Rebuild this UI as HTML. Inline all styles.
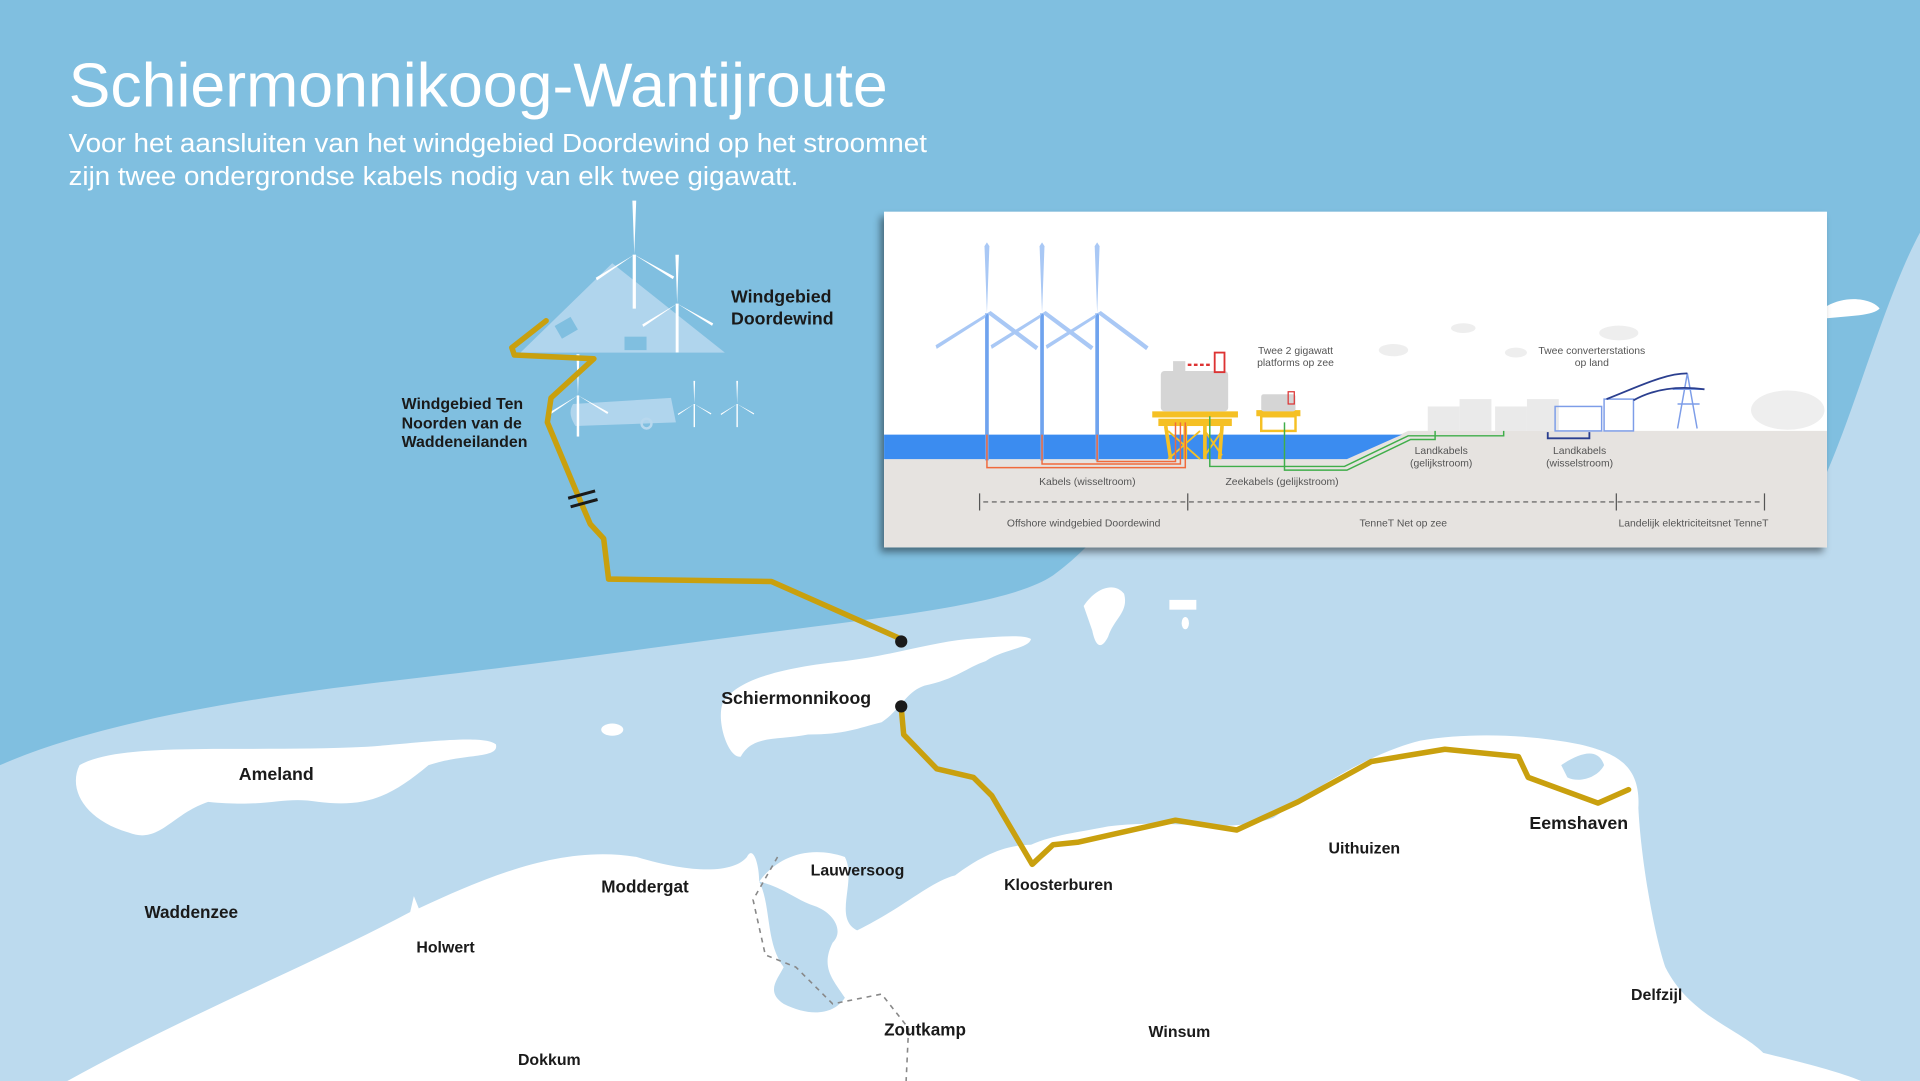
<!DOCTYPE html>
<html><head><meta charset="utf-8"><style>
html,body{margin:0;padding:0;width:1920px;height:1081px;overflow:hidden;background:#80bfe0}
svg{display:block}
text{font-family:"Liberation Sans",Arial,sans-serif}
</style></head><body>
<svg width="1920" height="1081" viewBox="0 0 1568 883" preserveAspectRatio="none">
<defs>
<filter id="sh" x="-5%" y="-5%" width="110%" height="115%"><feDropShadow dx="-3" dy="4" stdDeviation="3" flood-color="#000" flood-opacity="0.45"/></filter>
<g id="tb"><line x1="0" y1="0" x2="0" y2="120" stroke="#6fa3ee" stroke-width="3"/><path d="M0 0 L-2 -55 L0 -58 L2 -55 Z" fill="#a9c8f5"/><path d="M0 0 L-42 26 L-41 29 L-2 4 Z" fill="#a9c8f5"/><path d="M0 0 L40 30 L42 27 L3 -2 Z" fill="#a9c8f5"/></g>
<g id="wt"><line x1="0" y1="0" x2="0" y2="42" stroke="#fff" stroke-width="2.5"/><path d="M0 0 L-1.5 -42 L1.5 -42 Z" fill="#fff"/><path d="M0 0 L-30 18 L-29 20 Z" fill="#fff"/><path d="M0 0 L30 19 L31 17 Z" fill="#fff"/></g>
</defs>
<rect width="1568" height="883" fill="#80bfe0"/>
<path d="M0 625 C80 590 200 570 330 555 C460 540 560 525 640 515 C760 500 830 490 860 470 C895 445 905 420 930 415 L1460 440 C1500 400 1530 260 1568 190 L1568 883 L0 883 Z" fill="#bcdaee"/>
<path d="M1492 250 C1510 240 1530 245 1535 252 C1530 258 1510 258 1492 260 Z" fill="#fff"/>
<path d="M65 625 C100 605 200 615 300 610 C350 606 395 600 405 608 C408 620 380 615 350 625 C320 650 300 660 260 655 C230 650 220 660 170 655 C140 665 130 690 105 680 C70 670 55 645 65 625 Z" fill="#fff"/>
<path d="M590 575 C600 555 640 545 690 540 C730 535 760 525 790 522 C815 520 835 518 842 522 C840 530 820 530 805 540 C790 545 780 555 755 560 C740 565 735 580 720 590 C700 595 690 600 660 600 C635 605 615 600 605 618 C595 620 585 590 590 575 Z" fill="#fff"/>
<path d="M885 495 C895 480 910 475 918 485 C922 500 910 505 905 520 C900 530 895 530 892 515 Z" fill="#fff"/>
<rect x="955" y="490" width="22" height="8" fill="#fff"/><ellipse cx="968" cy="509" rx="3" ry="5" fill="#fff"/>
<ellipse cx="500" cy="596" rx="9" ry="5" fill="#fff"/>
<path d="M55 883 C150 830 250 790 335 745 L338 732 L342 742 C400 715 460 690 520 700 C570 715 600 712 610 700 C615 690 620 706 620 720 C635 700 660 690 690 700 C700 720 680 750 700 760 C740 740 760 720 780 715 C800 700 820 690 842 690 C860 682 880 680 905 675 C960 668 1000 682 1040 668 C1080 640 1120 615 1160 605 C1200 598 1250 600 1290 608 C1320 615 1340 625 1338 660 C1340 700 1350 760 1360 790 C1380 830 1420 840 1440 860 C1480 870 1500 875 1520 883 Z" fill="#fff"/>
<path d="M620 720 C630 740 625 770 640 790 C635 800 625 810 640 820 C660 830 680 830 690 815 C680 800 670 790 680 770 C690 760 680 745 665 740 C650 735 640 725 620 720 Z" fill="#bcdaee"/>
<path d="M1275 625 C1290 615 1305 610 1310 625 C1305 635 1290 640 1280 635 Z" fill="#bcdaee"/>
<path d="M635 700 L615 735 L625 780 L650 790 L680 820 L720 812 L742 840 L740 883" fill="none" stroke="#888" stroke-width="1.3" stroke-dasharray="4 4"/>
<path d="M425 288 L500 215 L592 288 Z" fill="#b8d8ee" opacity="0.85"/>
<rect x="510" y="275" width="18" height="11" fill="#80bfe0"/>
<rect x="455" y="262" width="15" height="12" fill="#80bfe0" transform="rotate(-30 462 268)"/>
<path d="M468 330 L548 325 L552 345 L470 348 C465 340 465 335 468 330 Z" fill="#b8d8ee" opacity="0.85"/>
<circle cx="528" cy="346" r="4" fill="none" stroke="#b8d8ee" stroke-width="2"/>
<g transform="translate(518,208) scale(1.05)"><use href="#wt"/></g>
<g transform="translate(553,248) scale(0.95)"><use href="#wt"/></g>
<g transform="translate(472,323) scale(0.8)"><use href="#wt"/></g>
<g transform="translate(567,330) scale(0.45)"><use href="#wt"/></g>
<g transform="translate(602,330) scale(0.45)"><use href="#wt"/></g>
<g fill="none" stroke="#c9a00e" stroke-width="4.5" stroke-linejoin="round" stroke-linecap="round">
<path d="M446 262 L418 284 L420 290 L485 293 L450 325 L447 345 L470 400 L482 428 L493 440 L497 473 L630 475 L736 522"/>
<path d="M736 578 L738 600 L765 628 L795 635 L810 650 L843 706 L860 690 L880 688 L960 670 L1010 678 L1060 655 L1120 622 L1180 612 L1240 618 L1248 635 L1305 656 L1330 645"/>
</g>
<path d="M464 407 L486 401 M466 414 L488 408" stroke="#1a1a1a" stroke-width="2.5"/>
<circle cx="736" cy="524" r="5" fill="#1a1a1a"/><circle cx="736" cy="577" r="5" fill="#1a1a1a"/>
<text x="56" y="87" fill="#fff" font-size="51" textLength="669" lengthAdjust="spacingAndGlyphs">Schiermonnikoog-Wantijroute</text>
<text x="56" y="124" fill="#fff" font-size="21.5" textLength="701" lengthAdjust="spacingAndGlyphs">Voor het aansluiten van het windgebied Doordewind op het stroomnet</text>
<text x="56" y="151" fill="#fff" font-size="21.5" textLength="596" lengthAdjust="spacingAndGlyphs">zijn twee ondergrondse kabels nodig van elk twee gigawatt.</text>
<g fill="#1a1a1a" font-weight="bold">
<text x="597" y="247" font-size="14.5">Windgebied</text><text x="597" y="265" font-size="14.5">Doordewind</text>
<text x="328" y="334" font-size="13">Windgebied Ten</text><text x="328" y="350" font-size="13">Noorden van de</text><text x="328" y="365" font-size="13">Waddeneilanden</text>
<text x="589" y="575" font-size="14.5">Schiermonnikoog</text>
<text x="195" y="637" font-size="14.5">Ameland</text>
<text x="1249" y="677" font-size="14.5">Eemshaven</text>
<text x="118" y="750" font-size="14">Waddenzee</text>
<text x="491" y="729" font-size="14">Moddergat</text>
<text x="662" y="715" font-size="13">Lauwersoog</text>
<text x="820" y="727" font-size="13">Kloosterburen</text>
<text x="1085" y="697" font-size="13">Uithuizen</text>
<text x="340" y="778" font-size="13">Holwert</text>
<text x="722" y="846" font-size="14">Zoutkamp</text>
<text x="938" y="847" font-size="13">Winsum</text>
<text x="1332" y="817" font-size="13">Delfzijl</text>
<text x="423" y="870" font-size="13">Dokkum</text>
</g>
<g filter="url(#sh)"><rect x="722" y="173" width="770" height="274" fill="#fff"/></g>
<rect x="722" y="173" width="770" height="274" fill="#fff"/>
<path d="M722 375 L1100 375 L1150 352 L1492 352 L1492 447 L722 447 Z" fill="#e6e3e0"/>
<path d="M722 355 L1145 355 L1100 375 L722 375 Z" fill="#3b8cf0"/>
<g fill="#eeeeee"><ellipse cx="1138" cy="286" rx="12" ry="5"/><ellipse cx="1195" cy="268" rx="10" ry="4"/><ellipse cx="1238" cy="288" rx="9" ry="4"/><ellipse cx="1322" cy="272" rx="16" ry="6"/><ellipse cx="1460" cy="335" rx="30" ry="16"/></g>
<use href="#tb" transform="translate(806,256)"/><use href="#tb" transform="translate(851,256)"/><use href="#tb" transform="translate(896,256)"/>
<g fill="#f5c024"><rect x="941" y="336" width="70" height="5"/><rect x="946" y="342" width="60" height="6"/><path d="M952 348 L956 375 M968 348 L968 375 M984 348 L984 375 M998 348 L996 375" stroke="#f5c024" stroke-width="3"/><path d="M954 352 L980 375 M980 352 L954 375 M984 352 L998 372 M998 352 L984 372" stroke="#f5c024" stroke-width="1.5"/></g>
<rect x="948" y="303" width="55" height="33" rx="3" fill="#d5d5d5"/><rect x="958" y="295" width="10" height="10" fill="#d5d5d5"/>
<rect x="992" y="288" width="8" height="16" fill="none" stroke="#d33" stroke-width="1.5"/>
<path d="M970 298 L990 298" stroke="#d33" stroke-width="2" stroke-dasharray="3 2"/>
<rect x="1026" y="335" width="36" height="5" fill="#f5c024"/><rect x="1030" y="340" width="28" height="12" fill="none" stroke="#f5c024" stroke-width="2"/>
<rect x="1030" y="322" width="28" height="14" rx="2" fill="#d5d5d5"/><rect x="1052" y="320" width="5" height="10" fill="none" stroke="#d33" stroke-width="1"/>
<g fill="#eaeaea"><rect x="1166" y="332" width="26" height="20"/><rect x="1192" y="326" width="26" height="26"/><rect x="1221" y="332" width="26" height="20"/><rect x="1247" y="326" width="26" height="26"/></g>
<g fill="none" stroke="#7d9de8" stroke-width="1.2"><rect x="1270" y="332" width="38" height="20"/><rect x="1310" y="326" width="24" height="26"/><path d="M1378 305 L1370 350 M1378 305 L1386 350 M1366 318 L1392 318 M1370 330 L1388 330"/><path d="M1312 326 C1340 315 1360 305 1378 305 M1334 327 C1350 318 1370 315 1392 318" stroke="#2b3f8f" stroke-width="1.5"/></g>
<path d="M1264 353 L1264 358 L1298 358 L1298 353" fill="none" stroke="#2b3f8f" stroke-width="1.5"/>
<g fill="none" stroke="#f06a3c" stroke-width="1.2"><path d="M806 355 L806 382 L968 382 L968 345"/><path d="M851 355 L851 379 L964 379 L964 345"/><path d="M896 355 L896 377 L960 377 L960 345"/></g>
<g fill="none" stroke="#3fae4a" stroke-width="1.2"><path d="M988 340 L988 381 L1098 381 L1150 356 L1228 356 L1228 352"/><path d="M1049 345 L1049 384 L1100 384 L1152 359 L1172 359 L1172 352"/></g>
<g fill="#555" font-size="8.5" text-anchor="middle">
<text x="1058" y="289">Twee 2 gigawatt</text><text x="1058" y="299">platforms op zee</text>
<text x="1300" y="289">Twee converterstations</text><text x="1300" y="299">op land</text>
<text x="1177" y="371">Landkabels</text><text x="1177" y="381">(gelijkstroom)</text>
<text x="1290" y="371">Landkabels</text><text x="1290" y="381">(wisselstroom)</text>
<text x="888" y="396">Kabels (wisseltroom)</text><text x="1047" y="396">Zeekabels (gelijkstroom)</text>
<text x="885" y="430">Offshore windgebied Doordewind</text><text x="1146" y="430">TenneT Net op zee</text><text x="1383" y="430">Landelijk elektriciteitsnet TenneT</text>
</g>
<g stroke="#555" stroke-width="1"><path d="M803 410 L1440 410" stroke-dasharray="4 3"/><path d="M800 403 L800 417 M970 403 L970 417 M1320 403 L1320 417 M1441 403 L1441 417"/></g>
</svg>
</body></html>
